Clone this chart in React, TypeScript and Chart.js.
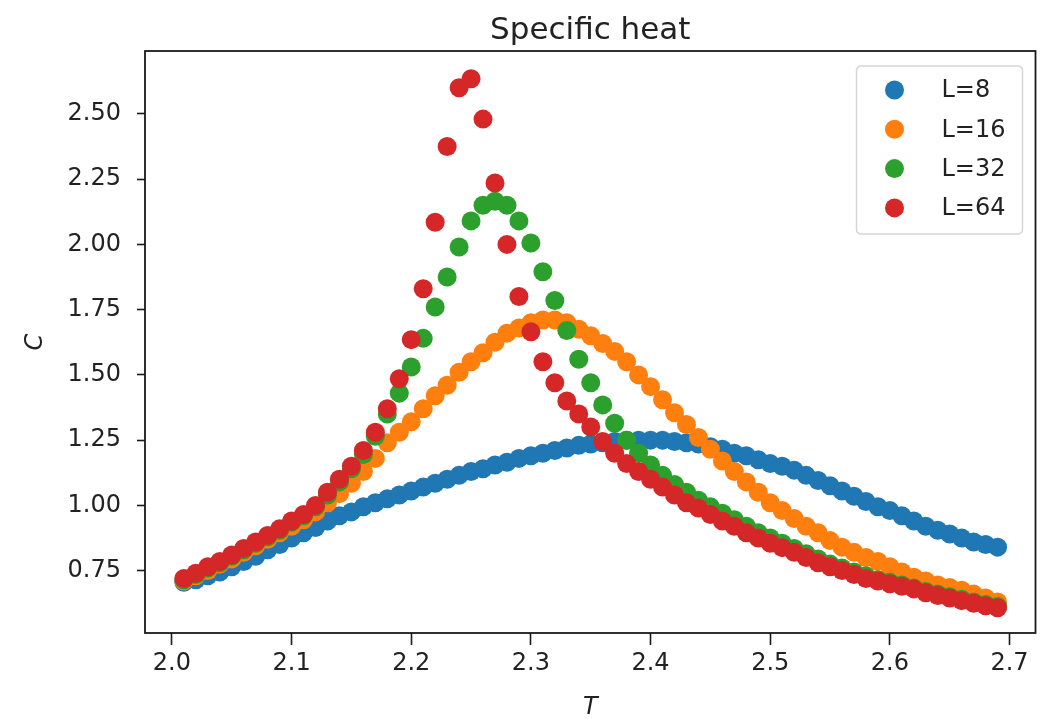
import React, { useEffect, useRef } from 'react';
import { Chart, registerables } from 'chart.js';

Chart.register(...registerables);

// ---- data ----
const T_VALUES = [
  2.01, 2.02, 2.03, 2.04, 2.05, 2.06, 2.07, 2.08, 2.09, 2.10,
  2.11, 2.12, 2.13, 2.14, 2.15, 2.16, 2.17, 2.18, 2.19, 2.20,
  2.21, 2.22, 2.23, 2.24, 2.25, 2.26, 2.27, 2.28, 2.29, 2.30,
  2.31, 2.32, 2.33, 2.34, 2.35, 2.36, 2.37, 2.38, 2.39, 2.40,
  2.41, 2.42, 2.43, 2.44, 2.45, 2.46, 2.47, 2.48, 2.49, 2.50,
  2.51, 2.52, 2.53, 2.54, 2.55, 2.56, 2.57, 2.58, 2.59, 2.60,
  2.61, 2.62, 2.63, 2.64, 2.65, 2.66, 2.67, 2.68, 2.69,
];

const C_L8 = [
  0.705, 0.715, 0.73, 0.745, 0.765, 0.785, 0.805, 0.83, 0.85, 0.875,
  0.895, 0.915, 0.94, 0.96, 0.975, 0.995, 1.01, 1.025, 1.04, 1.055,
  1.07, 1.085, 1.10, 1.115, 1.13, 1.14, 1.155, 1.165, 1.18, 1.19,
  1.20, 1.21, 1.22, 1.23, 1.235, 1.24, 1.245, 1.25, 1.25, 1.25,
  1.25, 1.245, 1.24, 1.235, 1.225, 1.215, 1.20, 1.19, 1.175, 1.16,
  1.15, 1.135, 1.115, 1.095, 1.075, 1.055, 1.035, 1.015, 0.995, 0.98,
  0.96, 0.94, 0.92, 0.905, 0.89, 0.875, 0.86, 0.85, 0.84,
];

const C_L16 = [
  0.71, 0.73, 0.75, 0.775, 0.795, 0.82, 0.845, 0.87, 0.895, 0.92,
  0.945, 0.975, 1.01, 1.045, 1.085, 1.13, 1.18, 1.24, 1.28, 1.32,
  1.37, 1.42, 1.46, 1.51, 1.55, 1.585, 1.625, 1.66, 1.68, 1.70,
  1.71, 1.71, 1.70, 1.675, 1.65, 1.62, 1.59, 1.55, 1.50, 1.455,
  1.405, 1.355, 1.31, 1.26, 1.215, 1.17, 1.13, 1.09, 1.05, 1.01,
  0.98, 0.95, 0.92, 0.895, 0.865, 0.84, 0.82, 0.80, 0.785, 0.765,
  0.745, 0.725, 0.71, 0.695, 0.685, 0.675, 0.66, 0.645, 0.63,
];

const C_L32 = [
  0.715, 0.735, 0.76, 0.78, 0.805, 0.83, 0.855, 0.88, 0.905, 0.935,
  0.96, 0.995, 1.04, 1.09, 1.14, 1.195, 1.265, 1.35, 1.43, 1.53,
  1.64, 1.76, 1.875, 1.99, 2.09, 2.15, 2.165, 2.15, 2.09, 2.005,
  1.895, 1.785, 1.67, 1.56, 1.47, 1.385, 1.315, 1.25, 1.20, 1.155,
  1.115, 1.08, 1.05, 1.02, 0.995, 0.97, 0.945, 0.92, 0.895, 0.875,
  0.855, 0.835, 0.815, 0.795, 0.775, 0.76, 0.745, 0.73, 0.715, 0.705,
  0.695, 0.683, 0.67, 0.66, 0.65, 0.64, 0.63, 0.62, 0.613,
];

const C_L64 = [
  0.72, 0.74, 0.765, 0.785, 0.81, 0.835, 0.86, 0.885, 0.91, 0.94,
  0.965, 1.0, 1.05, 1.10, 1.15, 1.21, 1.28, 1.37, 1.485, 1.635,
  1.83, 2.085, 2.375, 2.60, 2.635, 2.48, 2.235, 2.00, 1.80, 1.665,
  1.55, 1.47, 1.40, 1.35, 1.30, 1.245, 1.20, 1.16, 1.13, 1.10,
  1.07, 1.04, 1.01, 0.99, 0.965, 0.94, 0.92, 0.895, 0.875, 0.855,
  0.838, 0.82, 0.80, 0.78, 0.765, 0.75, 0.735, 0.72, 0.71, 0.70,
  0.69, 0.68, 0.665, 0.655, 0.645, 0.635, 0.625, 0.615, 0.608,
];

const SERIES_LABELS = ['L=8', 'L=16', 'L=32', 'L=64'];
const SERIES_COLORS = ['#1f77b4', '#ff7f0e', '#2ca02c', '#d62728'];
const X_TICKS = [2.0, 2.1, 2.2, 2.3, 2.4, 2.5, 2.6, 2.7];
const Y_TICKS = [0.75, 1.0, 1.25, 1.5, 1.75, 2.0, 2.25, 2.5];
const TITLE = 'Specific heat';
const X_LABEL = 'T';
const Y_LABEL = 'C';

const FONT = 'DejaVu Sans';
const TEXT_COLOR = '#222222';

const overlayPlugin = {
  id: 'mplOverlay',
  afterDatasetsDraw(chart: any) {
    const { ctx, chartArea } = chart;
    const { left, right, top, bottom } = chartArea;
    ctx.save();
    // frame
    ctx.strokeStyle = '#1a1a1a';
    ctx.lineWidth = 1.8;
    ctx.strokeRect(left, top, right - left, bottom - top);

    // title
    ctx.fillStyle = TEXT_COLOR;
    ctx.font = `31px "${FONT}"`;
    ctx.textAlign = 'center';
    ctx.textBaseline = 'alphabetic';
    ctx.fillText(TITLE, (left + right) / 2, 39);

    // legend
    const lx = right - 13 - 166;
    const ly = top + 15;
    const lw = 166;
    const lh = 168;
    const r = 5;
    ctx.beginPath();
    ctx.moveTo(lx + r, ly);
    ctx.lineTo(lx + lw - r, ly);
    ctx.quadraticCurveTo(lx + lw, ly, lx + lw, ly + r);
    ctx.lineTo(lx + lw, ly + lh - r);
    ctx.quadraticCurveTo(lx + lw, ly + lh, lx + lw - r, ly + lh);
    ctx.lineTo(lx + r, ly + lh);
    ctx.quadraticCurveTo(lx, ly + lh, lx, ly + lh - r);
    ctx.lineTo(lx, ly + r);
    ctx.quadraticCurveTo(lx, ly, lx + r, ly);
    ctx.closePath();
    ctx.fillStyle = 'rgba(255,255,255,0.8)';
    ctx.fill();
    ctx.strokeStyle = '#d6d6d6';
    ctx.lineWidth = 1.5;
    ctx.stroke();

    ctx.font = `24px "${FONT}"`;
    ctx.textAlign = 'left';
    ctx.textBaseline = 'middle';
    chart.data.datasets.forEach((ds: any, i: number) => {
      const cy = ly + 24 + i * 39.3;
      ctx.beginPath();
      ctx.arc(lx + 38, cy, 9.5, 0, Math.PI * 2);
      ctx.fillStyle = ds.backgroundColor;
      ctx.fill();
      ctx.fillStyle = TEXT_COLOR;
      ctx.fillText(ds.label, lx + 85, cy + 1);
    });
    ctx.restore();
  },
};

export default function App() {
  const canvasRef = useRef<HTMLCanvasElement | null>(null);

  useEffect(() => {
    document.body.style.margin = '0';
    const canvas = canvasRef.current;
    if (!canvas) return;
    const series = [C_L8, C_L16, C_L32, C_L64];
    const datasets = series.map((vals, i) => ({
      label: SERIES_LABELS[i],
      data: T_VALUES.map((t, j) => ({ x: t, y: vals[j] })),
      backgroundColor: SERIES_COLORS[i],
      borderColor: SERIES_COLORS[i],
      pointRadius: 9.5,
      pointHoverRadius: 9.5,
      pointBorderWidth: 0,
      borderWidth: 0,
      showLine: false,
      order: series.length - i,
    }));

    const chart = new Chart(canvas, {
      type: 'scatter',
      data: { datasets },
      plugins: [overlayPlugin],
      options: {
        animation: false,
        responsive: false,
        maintainAspectRatio: false,
        devicePixelRatio: 1,
        layout: { padding: { top: 51, right: 8, left: 0, bottom: 0 } },
        plugins: {
          legend: { display: false },
          tooltip: { enabled: false },
          title: { display: false },
        },
        scales: {
          x: {
            type: 'linear',
            min: 1.9775,
            max: 2.7217,
            border: { display: false },
            grid: {
              display: true,
              drawOnChartArea: false,
              drawTicks: true,
              tickLength: 12,
              tickColor: '#1a1a1a',
              tickWidth: 1.6,
            },
            ticks: {
              color: TEXT_COLOR,
              font: { family: FONT, size: 24 },
              padding: 4,
              maxRotation: 0,
              autoSkip: false,
              callback: (v: any) => Number(v).toFixed(1),
            },
            afterBuildTicks: (s: any) => {
              s.ticks = X_TICKS.map((v) => ({ value: v }));
            },
            afterFit: (s: any) => {
              s.height = 86;
            },
            title: {
              display: true,
              text: X_LABEL,
              color: TEXT_COLOR,
              font: { family: FONT, size: 24, style: 'italic' },
              padding: { top: 0, bottom: -3 },
            },
          },
          y: {
            type: 'linear',
            min: 0.511,
            max: 2.741,
            border: { display: false },
            grid: {
              display: true,
              drawOnChartArea: false,
              drawTicks: true,
              tickLength: 8,
              tickColor: '#1a1a1a',
              tickWidth: 1.6,
            },
            ticks: {
              color: TEXT_COLOR,
              font: { family: FONT, size: 24 },
              padding: 16,
              autoSkip: false,
              callback: (v: any) => Number(v).toFixed(2),
            },
            afterBuildTicks: (s: any) => {
              s.ticks = Y_TICKS.map((v) => ({ value: v }));
            },
            afterFit: (s: any) => {
              s.width = 145;
            },
            title: {
              display: true,
              text: Y_LABEL,
              color: TEXT_COLOR,
              font: { family: FONT, size: 24, style: 'italic' },
              padding: { top: 21, bottom: 0 },
            },
          },
        },
      },
    });
    return () => chart.destroy();
  }, []);

  return (
    <div style={{ position: 'fixed', left: 0, top: 0, width: 1045, height: 719, background: '#fff' }}>
      <canvas ref={canvasRef} width={1045} height={719} />
    </div>
  );
}
